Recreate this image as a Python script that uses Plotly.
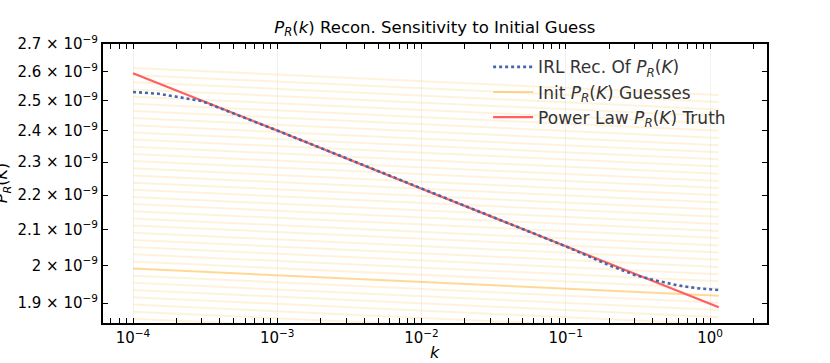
import plotly.graph_objects as go

# k grid points
k_ends = [1e-4, 1.15]
k_rec = [1e-4, 1.5e-4, 2e-4, 3e-4, 1e-3, 1e-2, 1e-1, 0.2, 0.3, 0.4, 0.6, 0.8, 1.0, 1.15]

# power law truth P_R(k)
k_truth = [1e-4, 1e-3, 1e-2, 1e-1, 1.0, 1.15]
p_truth = [2.595e-9, 2.401e-9, 2.219e-9, 2.052e-9, 1.898e-9, 1.889e-9]

# IRL reconstruction
p_rec = [2.530e-9, 2.524e-9, 2.514e-9, 2.499e-9, 2.401e-9, 2.219e-9, 2.052e-9,
         2.000e-9, 1.974e-9, 1.961e-9, 1.946e-9, 1.939e-9, 1.935e-9, 1.934e-9]

# initial guesses: value at left end / right end (x 1e-9)
guess_left = [2.614, 2.589, 2.564, 2.539, 2.514, 2.490, 2.466, 2.442, 2.418, 2.395,
              2.372, 2.349, 2.326, 2.304, 2.281, 2.259, 2.237, 2.216, 2.194, 2.173,
              2.152, 2.131, 2.111, 2.090, 2.070, 2.050, 2.030, 2.010, 1.991, 1.972,
              1.953, 1.934, 1.915, 1.896, 1.878, 1.860]
guess_right = [2.520, 2.496, 2.471, 2.448, 2.424, 2.400, 2.377, 2.354, 2.331, 2.309,
               2.287, 2.264, 2.242, 2.221, 2.199, 2.178, 2.157, 2.136, 2.115, 2.095,
               2.075, 2.054, 2.035, 2.015, 1.995, 1.976, 1.957, 1.938, 1.919, 1.901,
               1.882, 1.864, 1.846, 1.828, 1.810, 1.793]
highlight = 28  # the one guess drawn stronger

x_major = [1e-4, 1e-3, 1e-2, 1e-1, 1.0]
x_major_text = ["10<sup>−4</sup>", "10<sup>−3</sup>", "10<sup>−2</sup>", "10<sup>−1</sup>", "10<sup>0</sup>"]
x_minor = [m * d for d in [1e-5, 1e-4, 1e-3, 1e-2, 1e-1, 1.0] for m in range(2, 10)]

y_ticks = [1.9e-9, 2.0e-9, 2.1e-9, 2.2e-9, 2.3e-9, 2.4e-9, 2.5e-9, 2.6e-9, 2.7e-9]
y_text = ["1.9 × 10<sup>−9</sup>", "2 × 10<sup>−9</sup>", "2.1 × 10<sup>−9</sup>",
          "2.2 × 10<sup>−9</sup>", "2.3 × 10<sup>−9</sup>", "2.4 × 10<sup>−9</sup>",
          "2.5 × 10<sup>−9</sup>", "2.6 × 10<sup>−9</sup>", "2.7 × 10<sup>−9</sup>"]

PR = "<i>P</i><sub><i>R</i></sub>"

fig = go.Figure()

for i, (a, b) in enumerate(zip(guess_left, guess_right)):
    if i == highlight:
        continue
    fig.add_trace(go.Scatter(
        x=k_ends, y=[a * 1e-9, b * 1e-9], mode="lines",
        line=dict(color="rgba(255,165,0,0.14)", width=2),
        showlegend=False, hoverinfo="skip"))

fig.add_trace(go.Scatter(
    x=k_ends, y=[guess_left[highlight] * 1e-9, guess_right[highlight] * 1e-9],
    mode="lines", line=dict(color="rgba(255,165,0,0.42)", width=2),
    name=f"Init {PR}(<i>K</i>) Guesses", legendrank=2))

fig.add_trace(go.Scatter(
    x=k_truth, y=p_truth, mode="lines",
    line=dict(color="#ff5f5f", width=2.2),
    name=f"Power Law {PR}(<i>K</i>) Truth", legendrank=3))

fig.add_trace(go.Scatter(
    x=k_rec, y=p_rec, mode="lines",
    line=dict(color="#4565ad", width=2.6, dash="dot"),
    name=f"IRL Rec. Of {PR}(<i>K</i>)", legendrank=1))

axis_common = dict(showline=True, linecolor="black", linewidth=2, mirror="ticks",
                   ticks="inside", ticklen=5, tickwidth=1.3, tickcolor="black",
                   zeroline=False, automargin=False,
                   tickfont=dict(size=15, color="black"))

fig.update_xaxes(
    type="log", range=[-4.208, 0.395],
    tickvals=x_major, ticktext=x_major_text,
    showgrid=True, gridcolor="rgba(0,0,0,0.05)", gridwidth=1,
    minor=dict(tickvals=x_minor, ticks="inside", ticklen=5, tickwidth=1.3,
               tickcolor="black", showgrid=False),
    **axis_common)

fig.update_yaxes(
    type="log", range=[-8.733, -8.5686],
    tickvals=y_ticks, ticktext=y_text, showgrid=False,
    **axis_common)

# y axis label, partly off the left edge as in the original
fig.add_annotation(
    text=f"{PR}(<i>K</i>)", textangle=-90, xref="paper", yref="paper",
    x=-0.151, y=0.5, xanchor="center", yanchor="middle", showarrow=False,
    font=dict(size=16, color="black"))

# x axis label
fig.add_annotation(
    text="<i>k</i>", xref="paper", yref="paper",
    x=0.5, y=-0.104, xanchor="center", yanchor="middle", showarrow=False,
    font=dict(size=16, color="black"))

fig.update_layout(
    width=830, height=363,
    margin=dict(l=103, r=63, t=44, b=40),
    paper_bgcolor="white", plot_bgcolor="white",
    font=dict(family="DejaVu Sans", color="black"),
    title=dict(text=f"{PR}(<i>k</i>) Recon. Sensitivity to Initial Guess",
               x=0.524, xanchor="center", y=0.926, yanchor="middle",
               font=dict(size=16.5, color="black")),
    legend=dict(x=0.58, y=0.981, xanchor="left", yanchor="top",
                bgcolor="rgba(0,0,0,0)", font=dict(size=17, color="#333333"),
                itemwidth=40, tracegroupgap=0),
)

# drop the browser's default page margin so the figure sits at the corner
fig.write_html("out.html", config={"displayModeBar": False},
               post_script="document.body.style.margin='0';")
